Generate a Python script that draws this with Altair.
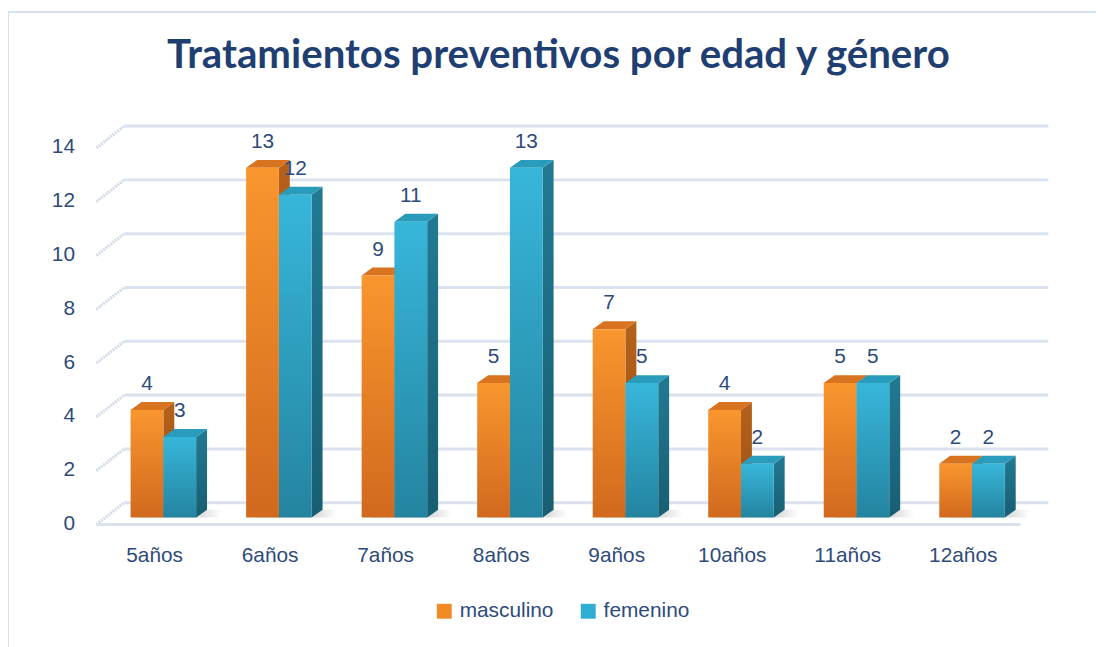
import altair as alt
import pandas as pd

# ---------------- data ----------------
categories = ["5años", "6años", "7años", "8años", "9años", "10años", "11años", "12años"]
series = ["masculino", "femenino"]
masculino = [4, 13, 9, 5, 7, 4, 5, 2]
femenino = [3, 12, 11, 13, 5, 2, 5, 2]
y_ticks = [0, 2, 4, 6, 8, 10, 12, 14]

TITLE = "Tratamientos preventivos por edad y género"

# ---------------- layout / style ----------------
PLOT_W = 931
PLOT_H = 379.4
Y_MAX = 14
PX_X = PLOT_W / len(categories)
PX_Y = PLOT_H / Y_MAX
BAR_LEFT_PX = 34.5
BAR_W_PX = 33
DEPTH_X_PX = 11
DEPTH_Y_PX = 8
SHADOW_PX = 14

TEXT_COLOR = "#2D4B7A"
TITLE_COLOR = "#1F3F72"
GRID_COLOR = "#dae2ed"
FONT = "Liberation Sans"
TITLE_FONT = "'Liberation Sans Narrow', Lato, Roboto, sans-serif"

ORANGE = "#F28A26"
BLUE = "#2FAED3"

front_fill = {
    "masculino": {"gradient": "linear", "x1": 0, "y1": 0, "x2": 0, "y2": 1,
                  "stops": [{"offset": 0, "color": "#F9962E"}, {"offset": 1, "color": "#D1691E"}]},
    "femenino": {"gradient": "linear", "x1": 0, "y1": 0, "x2": 0, "y2": 1,
                 "stops": [{"offset": 0, "color": "#37B6DA"}, {"offset": 1, "color": "#2484A0"}]},
}
side_fill = {
    "masculino": {"gradient": "linear", "x1": 0, "y1": 0, "x2": 0, "y2": 1,
                  "stops": [{"offset": 0, "color": "#B5611A"}, {"offset": 1, "color": "#9A4F14"}]},
    "femenino": {"gradient": "linear", "x1": 0, "y1": 0, "x2": 0, "y2": 1,
                 "stops": [{"offset": 0, "color": "#217A93"}, {"offset": 1, "color": "#185E72"}]},
}
top_fill = {"masculino": "#D8731F", "femenino": "#2A9CBB"}
shadow_fill = {"gradient": "linear", "x1": 0, "y1": 0, "x2": 1, "y2": 0,
               "stops": [{"offset": 0, "color": "#b9b9b9"}, {"offset": 0.75, "color": "#d4d4d4"},
                         {"offset": 1, "color": "#ffffff"}]}

bl = BAR_LEFT_PX / PX_X
bw = BAR_W_PX / PX_X
ddx = DEPTH_X_PX / PX_X
ddy = DEPTH_Y_PX / PX_Y
dsh = SHADOW_PX / PX_X

values = {"masculino": masculino, "femenino": femenino}

front_rows, top_rows, side_rows, shadow_rows = [], [], [], []
for i, c in enumerate(categories):
    xl = i + bl
    shadow_rows.append(dict(cat=c, x0=xl + ddx, x1=xl + 2 * bw + ddx + dsh, y0=0, y1=ddy))
for k, s in enumerate(series):
    for i, (c, v) in enumerate(zip(categories, values[s])):
        xl = i + bl + k * bw
        xr = xl + bw
        bid = f"{s}-{c}"
        front_rows.append(dict(series=s, cat=c, value=v, x0=xl, x1=xr, xc=(xl + xr) / 2, base=0))
        for x, lo, hi in [(xl, v, v), (xl + ddx, v, v + ddy), (xr, v, v + ddy), (xr + ddx, v + ddy, v + ddy)]:
            top_rows.append(dict(series=s, bid=bid, x=x, lo=lo, hi=hi))
        for x, lo, hi in [(xr, 0, v), (xr + ddx, ddy, v + ddy)]:
            side_rows.append(dict(series=s, bid=bid, x=x, lo=lo, hi=hi))

front_df = pd.DataFrame(front_rows)
top_df = pd.DataFrame(top_rows)
side_df = pd.DataFrame(side_rows)
shadow_df = pd.DataFrame(shadow_rows)
ticks_df = pd.DataFrame({"t": y_ticks})
legend_df = pd.DataFrame({"series": series})

label_expr = "[" + ",".join(f"'{c}'" for c in categories) + "][floor(datum.value)]"

X_SCALE = alt.Scale(domain=[0, len(categories)], nice=False, zero=False)
Y_SCALE = alt.Scale(domain=[0, Y_MAX], nice=False)
X_AXIS = alt.Axis(values=[i + 0.5 for i in range(len(categories))], labelExpr=label_expr,
                  title=None, grid=False, ticks=False, domain=False, labelFlush=False,
                  labelOverlap=False, labelFontSize=21, labelFont=FONT, labelColor=TEXT_COLOR,
                  labelPadding=27)
Y_AXIS = alt.Axis(values=y_ticks, title=None, grid=False, ticks=False, domain=False,
                  labelOverlap=False, labelFontSize=21, labelFont=FONT, labelColor=TEXT_COLOR,
                  labelPadding=22, labelOffset=6)

# back-wall gridlines
grid = alt.Chart(ticks_df).mark_rule(color=GRID_COLOR, strokeWidth=3, yOffset=-15).encode(
    y=alt.Y("t:Q", scale=Y_SCALE, axis=Y_AXIS),
    x=alt.value(28), x2=alt.value(PLOT_W + 28),
)
# left side-wall stubs
stubs = alt.Chart(ticks_df).mark_rule(color="#d3dbe6", strokeWidth=3, yOffset=7, y2Offset=-15,
                                      strokeDash=[2, 1]).encode(
    y=alt.Y("t:Q", scale=Y_SCALE, axis=Y_AXIS), y2="t:Q",
    x=alt.value(0), x2=alt.value(28),
)
# front floor edge
floor_df = pd.DataFrame({"t": [0]})
floor = alt.Chart(floor_df).mark_rule(color=GRID_COLOR, strokeWidth=3, yOffset=7).encode(
    y=alt.Y("t:Q", scale=Y_SCALE, axis=Y_AXIS),
    x=alt.value(0), x2=alt.value(PLOT_W),
)
# soft floor shadows
shadow = alt.Chart(shadow_df).mark_rect(fill=shadow_fill, opacity=0.8).encode(
    x=alt.X("x0:Q", scale=X_SCALE, axis=X_AXIS), x2="x1:Q",
    y=alt.Y("y0:Q", scale=Y_SCALE, axis=Y_AXIS), y2="y1:Q",
)

layers = [grid, stubs, floor, shadow]
for s in series:
    side = alt.Chart(side_df[side_df.series == s]).mark_area(fill=side_fill[s], orient="vertical").encode(
        x=alt.X("x:Q", scale=X_SCALE, axis=X_AXIS),
        y=alt.Y("lo:Q", scale=Y_SCALE, axis=Y_AXIS), y2="hi:Q", detail="bid:N",
    )
    top = alt.Chart(top_df[top_df.series == s]).mark_area(fill=top_fill[s], orient="vertical").encode(
        x=alt.X("x:Q", scale=X_SCALE, axis=X_AXIS),
        y=alt.Y("lo:Q", scale=Y_SCALE, axis=Y_AXIS), y2="hi:Q", detail="bid:N",
    )
    front = alt.Chart(front_df[front_df.series == s]).mark_rect(fill=front_fill[s]).encode(
        x=alt.X("x0:Q", scale=X_SCALE, axis=X_AXIS), x2="x1:Q",
        y=alt.Y("base:Q", scale=Y_SCALE, axis=Y_AXIS), y2="value:Q",
    )
    layers += [side, top, front]

labels = alt.Chart(front_df).mark_text(dy=-26, baseline="middle", fontSize=21, font=FONT,
                                       color=TEXT_COLOR).encode(
    x=alt.X("xc:Q", scale=X_SCALE, axis=X_AXIS),
    y=alt.Y("value:Q", scale=Y_SCALE, axis=Y_AXIS),
    text="value:Q",
)

legend_layer = alt.Chart(legend_df).mark_square(size=225, opacity=1).encode(
    color=alt.Color("series:N", scale=alt.Scale(domain=series, range=[ORANGE, BLUE]),
                    legend=alt.Legend(title=None, orient="none", legendX=340, legendY=463,
                                      direction="horizontal", symbolType="square", symbolSize=225,
                                      symbolStrokeWidth=0, symbolOpacity=1, labelFontSize=21,
                                      labelFont=FONT, labelColor=TEXT_COLOR, labelOffset=5,
                                      columnPadding=24)),
).transform_filter("false")

# outer frame lines
frame_v = alt.Chart(floor_df).mark_rule(color="#d6e2f1", strokeWidth=2).encode(
    x=alt.value(-89), y=alt.value(-131), y2=alt.value(520))
frame_h = alt.Chart(floor_df).mark_rule(color="#d6e2f1", strokeWidth=2).encode(
    x=alt.value(-89), x2=alt.value(1020), y=alt.value(-130))

layers += [labels, legend_layer, frame_v, frame_h]

chart = alt.layer(*layers).properties(
    width=PLOT_W, height=PLOT_H,
    background="white",
    title=alt.TitleParams(TITLE, font=TITLE_FONT, fontSize=40.5, fontWeight="bold",
                          color=TITLE_COLOR, anchor="middle", frame="group", offset=-67),
    autosize=alt.AutoSizeParams(type="none"),
    padding={"left": 89, "top": 131.6, "right": 76, "bottom": 128},
).configure_view(stroke=None)

chart.save("out.html", embed_options={"renderer": "svg", "actions": False})
